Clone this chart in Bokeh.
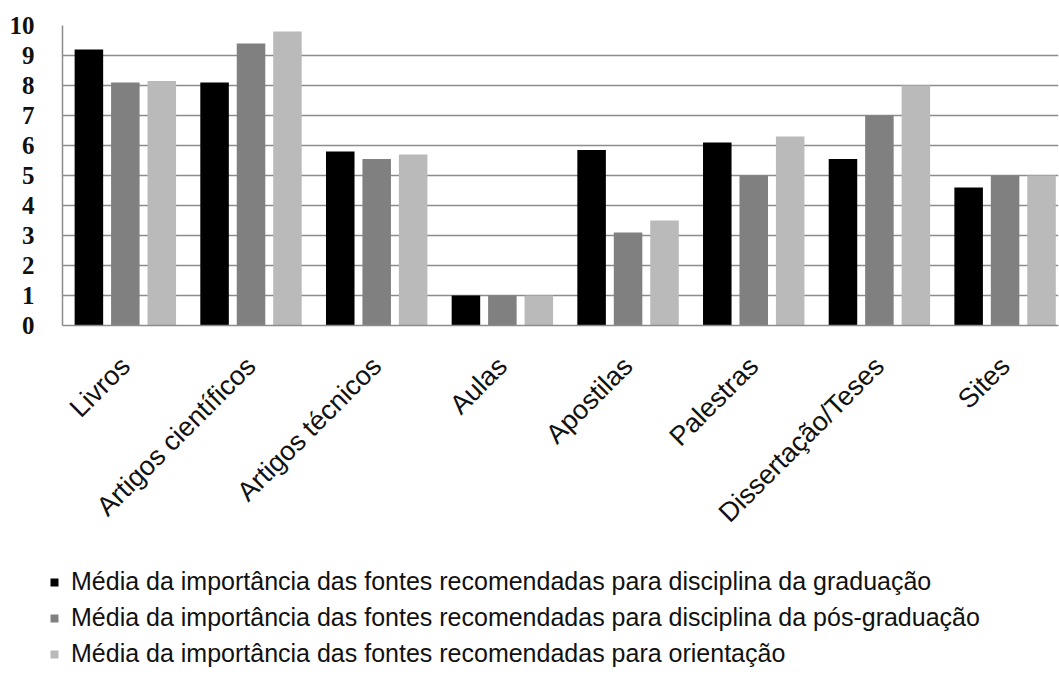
from bokeh.plotting import figure
from bokeh.layouts import column
from bokeh.models import (ColumnDataSource, Range1d, FixedTicker,
                          Legend, LegendItem)
from bokeh.transform import dodge
from bokeh.embed import file_html
from bokeh.resources import INLINE
import math

# Source categories and mean importance scores (0-10)
categories = ["Livros", "Artigos científicos", "Artigos técnicos", "Aulas",
              "Apostilas", "Palestras", "Dissertação/Teses", "Sites"]
graduacao = [9.2, 8.1, 5.8, 1.0, 5.85, 6.1, 5.55, 4.6]
pos_graduacao = [8.1, 9.4, 5.55, 1.0, 3.1, 5.0, 7.0, 5.0]
orientacao = [8.15, 9.8, 5.7, 1.0, 3.5, 6.3, 8.0, 5.0]
y_ticks = list(range(0, 11))

series_labels = [
    "Média da importância das fontes recomendadas para disciplina da graduação",
    "Média da importância das fontes recomendadas para disciplina da pós-graduação",
    "Média da importância das fontes recomendadas para orientação",
]
series_colors = ["#000000", "#808080", "#bababa"]

# category slots sit at the centre of each unit interval
slot = [i + 0.5 for i in range(len(categories))]
source = ColumnDataSource(data=dict(x=slot, g=graduacao,
                                    p=pos_graduacao, o=orientacao))

# the chart area runs slightly past the last category on the right
p = figure(width=1059, height=555, output_backend="svg", toolbar_location=None,
           x_range=Range1d(0, 7.925), y_range=Range1d(0, 10),
           min_border_left=62, min_border_right=1, min_border_top=25,
           min_border_bottom=230)
p.frame_align = False

grid_color = "#8c8c8c"
bar_w = 0.227
offsets = [-0.29, 0.0, 0.29]
for col, off, color in zip(["g", "p", "o"], offsets, series_colors):
    p.vbar(x=dodge("x", off), top=col, width=bar_w,
           source=source, fill_color=color, line_color=None)

p.outline_line_color = None
p.xgrid.grid_line_color = None
p.ygrid.grid_line_color = grid_color
p.ygrid.grid_line_width = 1.5
p.yaxis.ticker = FixedTicker(ticks=y_ticks)

p.yaxis.axis_line_color = grid_color
p.yaxis.axis_line_width = 1.5
p.yaxis.major_tick_line_color = None
p.yaxis.minor_tick_line_color = None
p.yaxis.major_label_standoff = 22
p.yaxis.major_label_text_font = "Liberation Serif"
p.yaxis.major_label_text_font_style = "bold"
p.yaxis.major_label_text_font_size = "25px"
p.yaxis.major_label_text_color = "#111111"

p.xaxis.ticker = FixedTicker(ticks=slot)
p.xaxis.major_label_overrides = {s: c for s, c in zip(slot, categories)}
p.xaxis.axis_line_color = grid_color
p.xaxis.axis_line_width = 1.5
p.xaxis.major_tick_line_color = None
p.xaxis.minor_tick_line_color = None
p.xaxis.major_label_orientation = math.pi / 4
p.xaxis.major_label_standoff = 30
p.xaxis.major_label_text_font = "Liberation Sans"
p.xaxis.major_label_text_font_size = "27px"
p.xaxis.major_label_text_color = "#111111"

# Legend panel underneath the chart
lp = figure(width=1059, height=129, output_backend="svg", toolbar_location=None,
            x_axis_type=None, y_axis_type=None,
            x_range=Range1d(0, 1), y_range=Range1d(0, 1),
            min_border_left=49, min_border_right=0, min_border_top=12,
            min_border_bottom=0)
lp.frame_align = False
lp.outline_line_color = None
lp.xgrid.grid_line_color = None
lp.ygrid.grid_line_color = None
# zero-height glyphs whose fill colours give the legend its squares
swatches = [lp.vbar(x=[0.5], top=[0], bottom=[0], width=0.1,
                    fill_color=c, line_color=None)
            for c in series_colors]

legend = Legend(
    items=[LegendItem(label=lab, renderers=[r]) for lab, r in zip(series_labels, swatches)],
    location="top_left", orientation="vertical",
    glyph_width=10, glyph_height=10, label_standoff=12,
    label_text_font="Liberation Sans", label_text_font_size="25px",
    label_text_color="#111111", label_height=29, spacing=7,
    padding=0, margin=0, border_line_color=None, background_fill_alpha=0,
)
lp.add_layout(legend, "center")

open("out.html", "w").write(file_html(column(p, lp, spacing=0), INLINE))
